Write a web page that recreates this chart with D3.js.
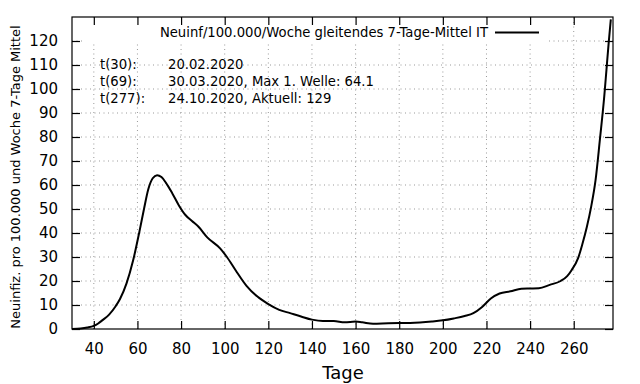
<!DOCTYPE html>
<html lang="de">
<head>
<meta charset="UTF-8">
<title>Neuinfektionen IT</title>
<script src="https://cdn.jsdelivr.net/npm/d3@7"></script>
<style>
  body { margin: 0; background: #fff; }
  svg { display: block; font-family: "DejaVu Sans", sans-serif; }
  .grid line { stroke: #999; stroke-width: 1; stroke-dasharray: 1,3.5; }
</style>
</head>
<body>
<div id="chart"></div>
<script>
// days since t(0) and 7-day incidence per 100.000
const days = [30, 34, 37, 40, 42, 44, 47, 50, 52, 55, 58, 61, 63, 65, 67, 69, 71, 73, 76, 79, 82, 85, 88, 92, 98, 101, 105, 110, 115, 120, 125, 130, 135, 140, 145, 150, 155, 160, 163, 168, 175, 185, 195, 200, 205, 210, 214, 218, 222, 226, 231, 236, 240, 244, 249, 254, 257, 259, 262, 264, 266, 268, 270, 272, 274, 275, 276, 277];
const values = [0, 0.2, 0.6, 1.3, 2.3, 3.7, 6, 9.5, 12.5, 19, 28.5, 41, 50, 58.3, 62.8, 64.1, 63.3, 61, 56.5, 51.5, 47.5, 45, 42.6, 38.2, 33.5, 30, 24.5, 18, 13.5, 10.4, 8, 6.6, 5.2, 3.9, 3.3, 3.3, 2.8, 3.1, 2.8, 2.2, 2.4, 2.5, 3.1, 3.6, 4.4, 5.4, 6.6, 9.2, 12.7, 14.8, 15.7, 16.8, 16.9, 17, 18.4, 20, 22, 24.5, 29.5, 35.5, 42.5, 51, 62, 79, 97, 108, 119, 129];
const xTicks = [40, 60, 80, 100, 120, 140, 160, 180, 200, 220, 240, 260];
const yTicks = [0, 10, 20, 30, 40, 50, 60, 70, 80, 90, 100, 110, 120];
const legendLabel = "Neuinf/100.000/Woche gleitendes 7-Tage-Mittel IT";
const notes = [
  ["t(30):", "20.02.2020"],
  ["t(69):", "30.03.2020, Max 1. Welle: 64.1"],
  ["t(277):", "24.10.2020, Aktuell: 129"]
];

const width = 640, height = 384;
const margin = { top: 17, right: 27, bottom: 55, left: 72 };

const svg = d3.select("#chart").append("svg")
  .attr("width", width)
  .attr("height", height);

const x = d3.scaleLinear().domain([30, 278]).range([margin.left, width - margin.right]);
const y = d3.scaleLinear().domain([0, 130]).range([height - margin.bottom, margin.top]);

// dotted grid
const grid = svg.append("g").attr("class", "grid");
grid.selectAll(".gx").data(xTicks).enter().append("line")
  .attr("x1", d => x(d)).attr("x2", d => x(d))
  .attr("y1", y(0)).attr("y2", y(130));
grid.selectAll(".gy").data(yTicks.slice(1)).enter().append("line")
  .attr("x1", x(30)).attr("x2", x(278))
  .attr("y1", d => y(d)).attr("y2", d => y(d));

// opaque key box
svg.append("rect")
  .attr("x", 82).attr("y", margin.top + 1)
  .attr("width", 464).attr("height", 25)
  .attr("fill", "#fff");

// axes, ticks inward and mirrored
const tickLen = 8;
const axisFont = g => g.selectAll("text").style("font-size", "15px").style("font-family", "DejaVu Sans, sans-serif").attr("fill", "#000");
svg.append("g")
  .attr("transform", `translate(0,${y(0)})`)
  .call(d3.axisBottom(x).tickValues(xTicks).tickSizeInner(-tickLen).tickSizeOuter(0).tickPadding(14))
  .call(g => g.select(".domain").remove())
  .call(axisFont);
svg.append("g")
  .attr("transform", `translate(0,${y(130)})`)
  .call(d3.axisTop(x).tickValues(xTicks).tickSizeInner(-tickLen).tickSizeOuter(0).tickFormat(""))
  .call(g => g.select(".domain").remove());
svg.append("g")
  .attr("transform", `translate(${x(30)},0)`)
  .call(d3.axisLeft(y).tickValues(yTicks).tickSizeInner(-tickLen).tickSizeOuter(0).tickPadding(14))
  .call(g => g.select(".domain").remove())
  .call(axisFont);
svg.append("g")
  .attr("transform", `translate(${x(278)},0)`)
  .call(d3.axisRight(y).tickValues(yTicks).tickSizeInner(-tickLen).tickSizeOuter(0).tickFormat(""))
  .call(g => g.select(".domain").remove());

svg.selectAll(".tick line").attr("stroke", "#000").attr("stroke-width", 1.2);

// frame
svg.append("rect")
  .attr("x", x(30)).attr("y", y(130))
  .attr("width", x(278) - x(30)).attr("height", y(0) - y(130))
  .attr("fill", "none").attr("stroke", "#000").attr("stroke-width", 1.2);

// curve
const pts = days.map((d, i) => [d, values[i]]);
svg.append("path")
  .datum(pts)
  .attr("fill", "none")
  .attr("stroke", "#000")
  .attr("stroke-width", 2)
  .attr("d", d3.line().x(d => x(d[0])).y(d => y(d[1])).curve(d3.curveMonotoneX));

// key
svg.append("text")
  .attr("x", 488).attr("y", 37)
  .attr("text-anchor", "end")
  .style("font-size", "13.2px")
  .text(legendLabel);
svg.append("line")
  .attr("x1", 495).attr("x2", 539)
  .attr("y1", 32.5).attr("y2", 32.5)
  .attr("stroke", "#000").attr("stroke-width", 2);

// notes
notes.forEach((n, i) => {
  svg.append("text").attr("x", 100).attr("y", 68.5 + i * 17).style("font-size", "13.2px").text(n[0]);
  svg.append("text").attr("x", 168).attr("y", 68.5 + i * 17).style("font-size", "13.2px").text(n[1]);
});

// axis titles
svg.append("text")
  .attr("x", 343).attr("y", 379)
  .attr("text-anchor", "middle")
  .style("font-size", "18px")
  .text("Tage");
svg.append("text")
  .attr("transform", "rotate(-90)")
  .attr("x", -177).attr("y", 20)
  .attr("text-anchor", "middle")
  .style("font-size", "13px")
  .text("Neuinfiz. pro 100.000 und Woche 7-Tage Mittel");
</script>
</body>
</html>
